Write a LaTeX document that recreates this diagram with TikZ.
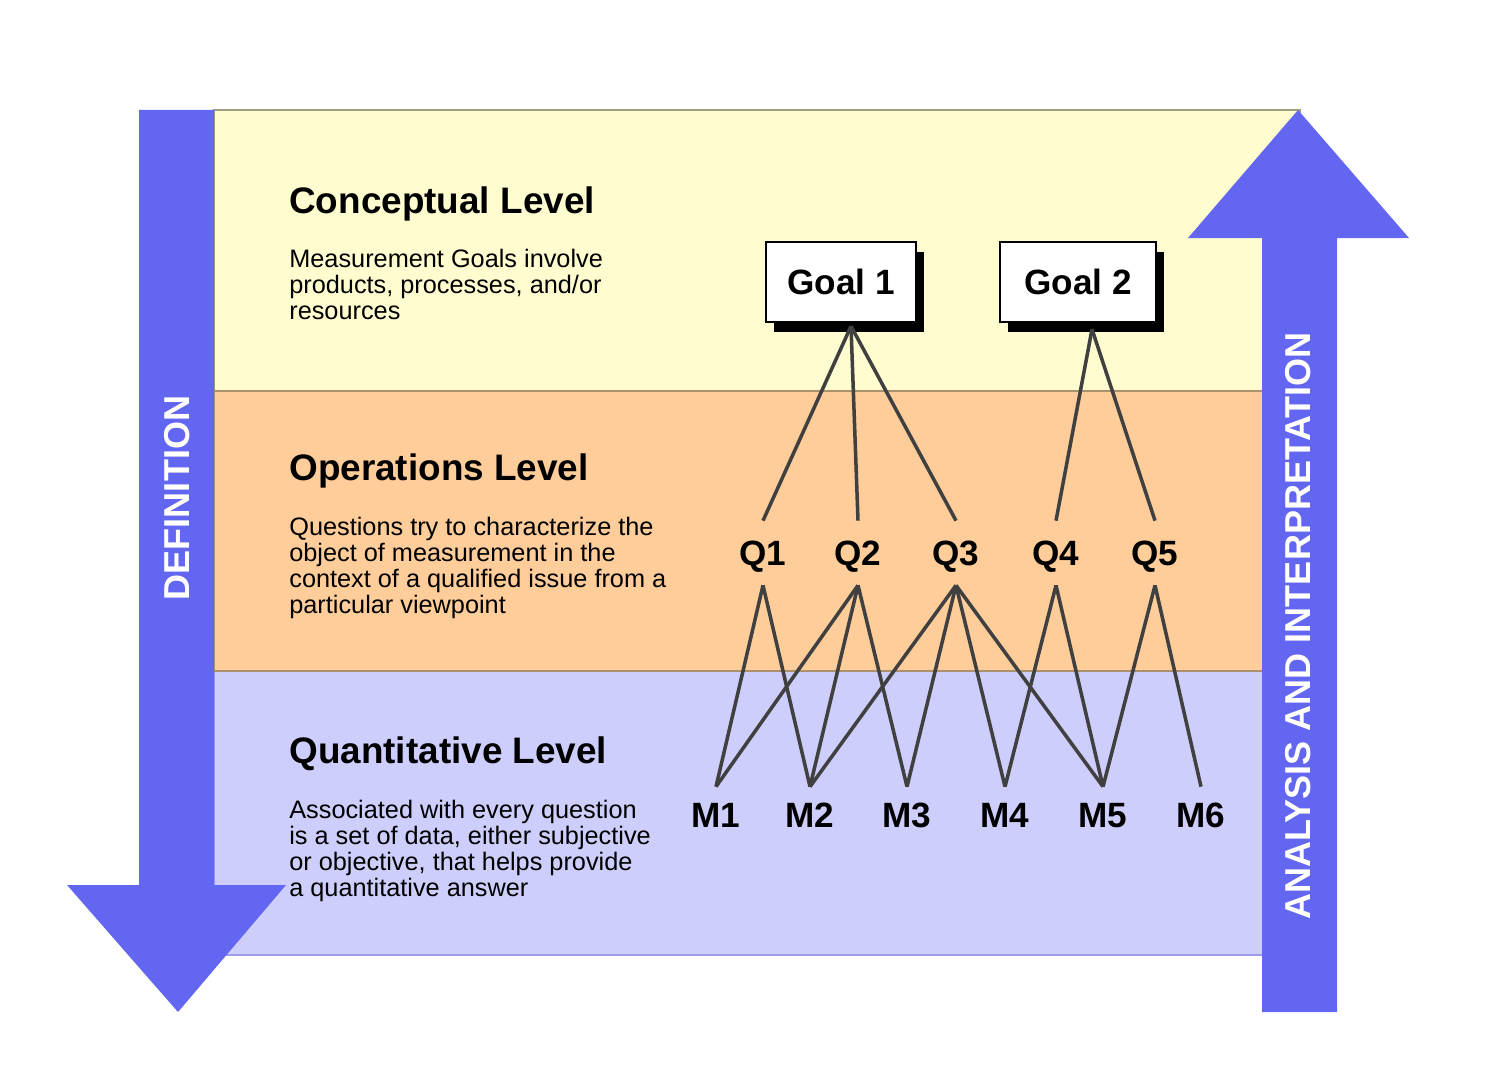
\documentclass[tikz,border=0pt]{standalone}
\usepackage{fontspec}
\setmainfont{Liberation Sans}
\usepackage{tikz}
\usetikzlibrary{positioning, shadows}
\definecolor{arrowblue}{RGB}{99,102,241}
\definecolor{bandyellow}{RGB}{255,253,208}
\definecolor{bandorange}{RGB}{254,205,153}
\definecolor{bandpurple}{RGB}{206,206,252}
\definecolor{edgeyellow}{RGB}{160,157,125}
\definecolor{edgeorange}{RGB}{172,145,110}
\definecolor{edgepurple}{RGB}{157,155,236}
\definecolor{linkgray}{RGB}{64,64,64}

\begin{document}
\begin{tikzpicture}[x=0.02cm, y=-0.02cm,
    title/.style={anchor=base west, inner sep=0, font=\fontsize{21}{25}\selectfont\bfseries},
    desc/.style={anchor=north west, inner sep=0, align=left, font=\fontsize{14.4}{14.8}\selectfont},
    goalbox/.style={draw, line width=1.4pt, fill=white, minimum height=1.6cm,
        drop shadow={opacity=1, fill=black, shadow xshift=0.16cm, shadow yshift=-0.2cm},
        font=\fontsize{20}{24}\selectfont\bfseries},
    qlabel/.style={inner sep=0, text height=14.5pt, text depth=0pt, minimum height=1.28cm,
        font=\fontsize{20}{24}\selectfont\bfseries},
    mlabel/.style={inner sep=0, text height=14.5pt, text depth=0pt, minimum height=1.12cm,
        font=\fontsize{20}{24}\selectfont\bfseries},
    sidetext/.style={rotate=90, text=white, inner sep=0, font=\fontsize{20.5}{24}\selectfont\bfseries},
    link/.style={draw=linkgray, line width=2pt}]
    \useasboundingbox (0,0) rectangle (1500,1078);

    \filldraw[fill=bandyellow, draw=edgeyellow, line width=1.1pt] (214,110) rectangle (1300,391);
    \filldraw[fill=bandpurple, draw=edgepurple, line width=1.1pt] (214,671) rectangle (1300,955);
    \filldraw[fill=bandorange, draw=edgeorange, line width=1.1pt] (214,391) rectangle (1300,671);

    \fill[arrowblue] (139,110) -- (214,110) -- (214,885) -- (286,885) -- (178,1012)
        -- (67,885) -- (139,885) -- cycle;
    \fill[arrowblue] (1262,1012) -- (1337,1012) -- (1337,238) -- (1409,238) -- (1298,110)
        -- (1188,238) -- (1262,238) -- cycle;
    \node[sidetext] (definition) at (177,498) {DEFINITION};
    \node[sidetext] (analysis) at (1298,626) {ANALYSIS AND INTERPRETATION};

    \node[title] (conceptual) at (289,213) {Conceptual Level};
    \node[desc] (conceptualdesc) at (289,249) {Measurement Goals involve\\products, processes, and/or\\resources};
    \node[title] (operations) at (289,480) {Operations Level};
    \node[desc] (operationsdesc) at (289,517) {Questions try to characterize the\\object of measurement in the\\context of a qualified issue from a\\particular viewpoint};
    \node[title] (quantitative) at (289,763) {Quantitative Level};
    \node[desc] (quantitativedesc) at (289,800) {Associated with every question\\is a set of data, either subjective\\or objective, that helps provide\\a quantitative answer};

    \node[goalbox, minimum width=3cm] (g1) at (841,282) {Goal 1};
    \node[goalbox, minimum width=3.12cm] (g2) at (1078,282) {Goal 2};
    \coordinate (g1foot) at ([shift={(10,3)}]g1.south);
    \coordinate (g2foot) at ([shift={(14,6)}]g2.south);

    \foreach \x [count=\i] in {763,858,956,1056,1155}
        \node[qlabel] (q\i) at (\x,553) {Q\i};
    \foreach \x [count=\i] in {716,810,907,1005,1103,1201}
        \node[mlabel] (m\i) at (\x,815) {M\i};

    \foreach \q in {1,2,3}
        \draw[link] (g1foot) -- (q\q.north);
    \foreach \q in {4,5}
        \draw[link] (g2foot) -- (q\q.north);
    \foreach \q/\m in {1/1,1/2,2/1,2/2,2/3,3/2,3/3,3/4,3/5,4/4,4/5,5/5,5/6}
        \draw[link] (q\q.south) -- (m\m.north);
\end{tikzpicture}
\end{document}
